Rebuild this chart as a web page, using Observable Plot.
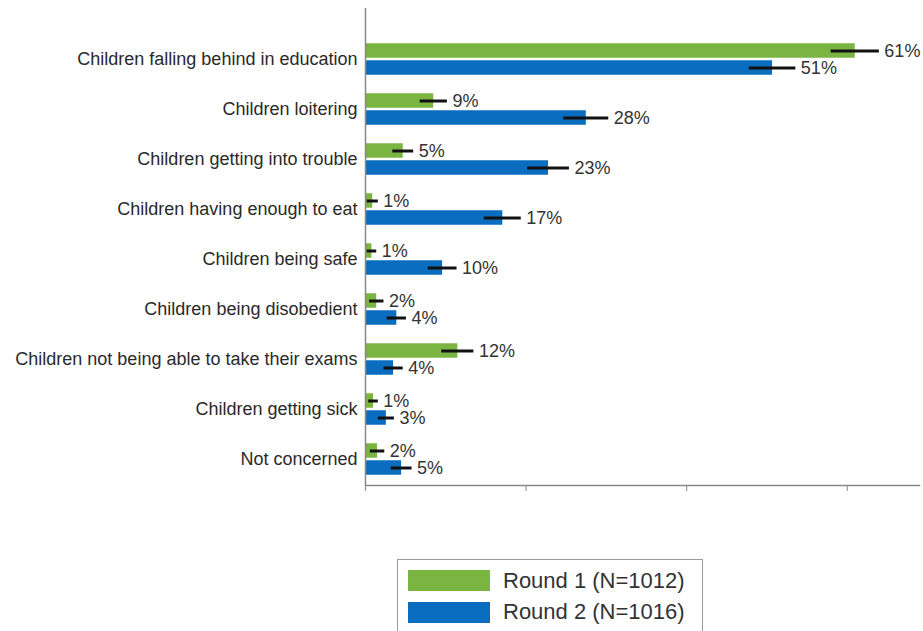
<!DOCTYPE html>
<html>
<head>
<meta charset="utf-8">
<script src="https://cdn.jsdelivr.net/npm/d3@7"></script>
<script src="https://cdn.jsdelivr.net/npm/@observablehq/plot@0.6"></script>
<style>
  body { margin: 0; background: #fff; font-family: "Liberation Sans", Arial, sans-serif; }
  #chart svg { display: block; }
  .legend { margin-left: 397px; margin-top: 59px; width: 306px; height: 72px; border: 1px solid #9a9a9a; border-bottom: none; box-sizing: border-box; padding-top: 5px; }
  .item { display: flex; align-items: center; height: 31.5px; margin-left: 10px; }
  .sw { width: 82px; height: 21px; margin-right: 13px; }
  .lab { font-size: 22px; color: #333; }
</style>
</head>
<body>
<div id="chart"></div>
<div class="legend" id="legend"></div>
<script>
const categories = [
  "Children falling behind in education",
  "Children loitering",
  "Children getting into trouble",
  "Children having enough to eat",
  "Children being safe",
  "Children being disobedient",
  "Children not being able to take their exams",
  "Children getting sick",
  "Not concerned"
];
const seriesNames = ["Round 1 (N=1012)", "Round 2 (N=1016)"];
const seriesColors = ["#7ab542", "#0b6dbf"];
// bar values (%)
const round1 = [61.0, 8.5, 4.7, 0.9, 0.8, 1.4, 11.5, 1.0, 1.5];
const round2 = [50.7, 27.5, 22.8, 17.1, 9.6, 3.9, 3.5, 2.6, 4.5];
// error bar half-widths (%)
const err1 = [3.0, 1.7, 1.3, 0.7, 0.6, 0.9, 2.0, 0.6, 0.9];
const err2 = [2.9, 2.8, 2.6, 2.3, 1.8, 1.2, 1.2, 1.0, 1.3];
// printed labels
const labels1 = ["61%", "9%", "5%", "1%", "1%", "2%", "12%", "1%", "2%"];
const labels2 = ["51%", "28%", "23%", "17%", "10%", "4%", "4%", "3%", "5%"];
const xTicks = [0, 20, 40, 60];

const rows1 = categories.map((c, i) => ({cat: c, v: round1[i], e: err1[i], label: labels1[i]}));
const rows2 = categories.map((c, i) => ({cat: c, v: round2[i], e: err2[i], label: labels2[i]}));

const W = 923, H = 500;
const half = 50.5 / 2;

const chart = Plot.plot({
  width: W,
  height: H,
  marginLeft: 365,
  marginRight: 4,
  marginTop: 8,
  marginBottom: 15,
  style: {fontFamily: "Liberation Sans, Arial, sans-serif", background: "#fff", overflow: "visible"},
  x: {domain: [0, 69], ticks: xTicks, tickFormat: () => "", tickSize: 6},
  y: {domain: categories, range: [31.25, 485.75], padding: 0},
  marks: [
    Plot.barX(rows1, {y: "cat", x: "v", fill: seriesColors[0], insetTop: half - 16, insetBottom: half + 1}),
    Plot.barX(rows2, {y: "cat", x: "v", fill: seriesColors[1], insetTop: half + 1, insetBottom: half - 16}),
    Plot.ruleY(rows1, {y: "cat", x1: d => d.v - d.e, x2: d => d.v + d.e, dy: -8.5, stroke: "#111", strokeWidth: 3}),
    Plot.ruleY(rows2, {y: "cat", x1: d => d.v - d.e, x2: d => d.v + d.e, dy: 8.5, stroke: "#111", strokeWidth: 3}),
    Plot.text(rows1, {y: "cat", x: d => d.v + d.e, text: "label", dx: 5, dy: -8.5, textAnchor: "start", fontSize: 18, fill: "#333"}),
    Plot.text(rows2, {y: "cat", x: d => d.v + d.e, text: "label", dx: 5, dy: 8.5, textAnchor: "start", fontSize: 18, fill: "#333"}),
    Plot.axisY({tickSize: 0, tickPadding: 8, fontSize: 18, fill: "#2a2a2a", label: null}),
    Plot.axisX({ticks: xTicks, tickFormat: () => "", tickSize: 6, stroke: "#888", label: null}),
    Plot.ruleX([0], {stroke: "#888", strokeWidth: 1.5}),
    Plot.frame({anchor: "bottom", stroke: "#888", strokeWidth: 1.5})
  ]
});
document.getElementById("chart").appendChild(chart);

const leg = document.getElementById("legend");
seriesNames.forEach((n, i) => {
  const it = document.createElement("div");
  it.className = "item";
  it.innerHTML = `<div class="sw" style="background:${seriesColors[i]}"></div><span class="lab">${n}</span>`;
  leg.appendChild(it);
});
</script>
</body>
</html>
